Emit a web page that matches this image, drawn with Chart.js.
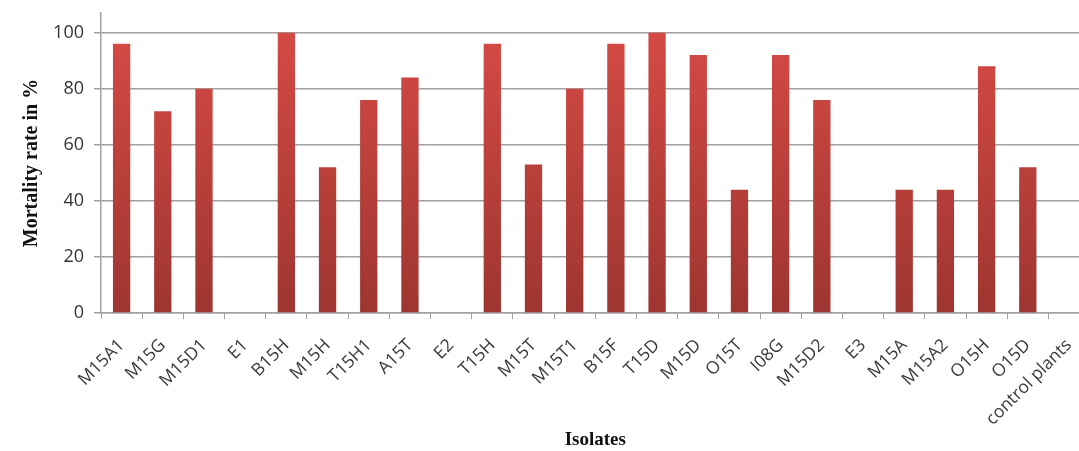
<!DOCTYPE html>
<html>
<head>
<meta charset="utf-8">
<script src="https://cdn.jsdelivr.net/npm/chart.js@4"></script>
<style>
  html, body { margin: 0; padding: 0; background: #fff; overflow: hidden; }
  #wrap { width: 1100px; height: 451px; }
</style>
</head>
<body>
<div id="wrap"><canvas id="c"></canvas></div>
<script>
/* ---------- 분리주 별 치사율 막대 차트 ---------- */

const isolates = [
  "M15A1", "M15G", "M15D1", "E1", "B15H", "M15H", "T15H1", "A15T", "E2", "T15H",
  "M15T", "M15T1", "B15F", "T15D", "M15D", "O15T", "I08G", "M15D2", "E3", "M15A",
  "M15A2", "O15H", "O15D", "control plants",
];
const mortality = [
  96, 72, 80, 0, 100, 52, 76, 84, 0, 96,
  53, 80, 96, 100, 92, 44, 92, 76, 0, 44,
  44, 88, 52, 0,
];
const yTicks = [0, 20, 40, 60, 80, 100];

/* 위는 밝은 빨강, 아래로 갈수록 어두워지는 그라디언트 */
function barFill(ctx) {
  const area = ctx.chart.chartArea;
  if (!area) return "#C2403B";
  const y = ctx.chart.scales.y;
  const g = ctx.chart.ctx.createLinearGradient(0, y.getPixelForValue(100), 0, y.getPixelForValue(0));
  g.addColorStop(0, "#D54A45");
  g.addColorStop(1, "#9E3530");
  return g;
}

new Chart(document.getElementById("c"), {
  type: "bar",
  data: {
    labels: isolates,
    datasets: [
      {
        data: mortality,
        backgroundColor: barFill,
        borderWidth: 0,
        barPercentage: 0.42,
        categoryPercentage: 1,
      },
    ],
  },
  options: {
    responsive: true,
    maintainAspectRatio: false,
    animation: false,
    layout: { padding: { top: 13, right: 8, left: 0, bottom: 0 } },
    scales: {
      x: {
        offset: true,
        grid: { offset: true, drawOnChartArea: false, color: "#A0A0A0", tickLength: 6 },
        border: { color: "#A0A0A0", width: 1.5 },
        ticks: {
          autoSkip: false,
          minRotation: 45,
          maxRotation: 45,
          padding: 16,
          color: "#3a3a3a",
          font: { size: 17.5, family: "Open Sans" },
        },
        title: {
          display: true,
          text: "Isolates",
          color: "#111",
          font: { size: 19, weight: "bold", family: "Liberation Serif" },
          padding: { top: 0, bottom: 0 },
        },
        afterFit: (s) => { s.height = 138; },
      },
      y: {
        min: 0,
        max: 107,
        afterBuildTicks: (s) => { s.ticks = yTicks.map((v) => ({ value: v })); },
        grid: { color: "#A0A0A0", lineWidth: 1.5, tickLength: 7 },
        border: { color: "#A0A0A0", width: 1.5 },
        ticks: {
          padding: 10,
          color: "#333",
          font: { size: 18, family: "Open Sans" },
        },
        title: {
          display: true,
          text: "Mortality rate in %",
          color: "#111",
          font: { size: 20, weight: "bold", family: "Liberation Serif" },
          padding: { top: 20, bottom: 0 },
        },
        afterFit: (s) => {
          s.width = 101;
          s.paddingTop = 0;
          s.paddingBottom = 0;
        },
      },
    },
    plugins: { legend: { display: false }, tooltip: { enabled: false } },
  },
});
</script>
</body>
</html>
